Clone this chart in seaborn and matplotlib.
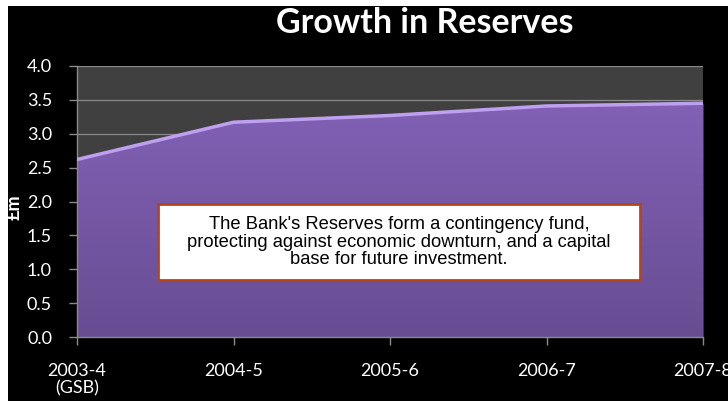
import matplotlib
matplotlib.use("Agg")
import matplotlib.pyplot as plt
import seaborn as sns
import pandas as pd
import numpy as np
from matplotlib.patches import Rectangle
from matplotlib.colors import LinearSegmentedColormap

categories = ["2003-4\n(GSB)", "2004-5", "2005-6", "2006-7", "2007-8"]
reserves = [2.62, 3.17, 3.27, 3.41, 3.45]
y_ticks = [0.0, 0.5, 1.0, 1.5, 2.0, 2.5, 3.0, 3.5, 4.0]
title = "Growth in Reserves"
ylabel = "£m"
note = ("The Bank's Reserves form a contingency fund,\n"
        "protecting against economic downturn, and a capital\n"
        "base for future investment.")

df = pd.DataFrame({"pos": range(len(categories)), "value": reserves})

sns.set_theme(style="dark")
plt.rcParams["font.family"] = ["Lato", "DejaVu Sans"]

fig = plt.figure(figsize=(7.28, 4.01), dpi=100, facecolor="black")
ax = fig.add_axes([77/728, 1-337/401, (703-77)/728, (337-66)/401])
ax.set_facecolor("#404040")

for yv in y_ticks:
    ax.axhline(yv, color="#8a8a8a", lw=0.9, zorder=1)

poly = ax.fill_between(df["pos"], 0, df["value"], color="#7d5fae", zorder=2, lw=0)
cmap = LinearSegmentedColormap.from_list("purp", ["#684d93", "#8261b5"])
grad = np.linspace(0, 1, 256).reshape(-1, 1)
img = ax.imshow(grad, cmap=cmap, aspect="auto", origin="lower",
                extent=[0, len(categories)-1, 0, max(reserves)], zorder=2.5)
img.set_clip_path(poly.get_paths()[0], transform=ax.transData)
sns.lineplot(data=df, x="pos", y="value", ax=ax, color="#bf9ff0", lw=2.5, zorder=3)

ax.set_xlim(0, len(categories)-1)
ax.set_ylim(0, 4.0)
ax.set_xticks(range(len(categories)))
ax.set_xticklabels(categories, color="white", fontsize=13, linespacing=1.1)
ax.set_yticks(y_ticks)
ax.set_yticklabels([f"{v:.1f}" for v in y_ticks], color="white", fontsize=13)
ax.tick_params(axis="both", direction="out", length=6, width=1, color="#8a8a8a",
               bottom=True, left=True)
ax.tick_params(axis="y", pad=12)
ax.tick_params(axis="x", pad=13)
ax.grid(False)
for s in ["top", "right"]:
    ax.spines[s].set_visible(False)
for s in ["left", "bottom"]:
    ax.spines[s].set_visible(True)
    ax.spines[s].set_color("#8a8a8a")
    ax.spines[s].set_linewidth(1)
ax.set_xlabel("")
ax.set_ylabel("")

fig.text(14/728, 1-207/401, ylabel, rotation=90, color="white", fontsize=13,
         fontweight="bold", ha="center", va="center")
fig.text(425/728, 1-23/401, title, color="white", fontsize=24.5, fontweight="bold",
         ha="center", va="center")

box = Rectangle((158/728, 1-280/401), (640-158)/728, (280-204)/401,
                transform=fig.transFigure, facecolor="white", edgecolor="#b5451b",
                lw=2, zorder=5)
fig.patches.append(box)
fig.text(399/728, 1-242/401, note, ha="center", va="center", color="black",
         fontsize=13.2, family=["Liberation Sans", "DejaVu Sans"],
         linespacing=1.05, zorder=6)

fig.patches.append(Rectangle((0, 1-6/401), 1, 6/401, transform=fig.transFigure,
                             facecolor="white", edgecolor="none", zorder=10))
fig.patches.append(Rectangle((0, 0), 8/728, 1, transform=fig.transFigure,
                             facecolor="white", edgecolor="none", zorder=10))

fig.savefig("out.png", dpi=100, facecolor="black")
